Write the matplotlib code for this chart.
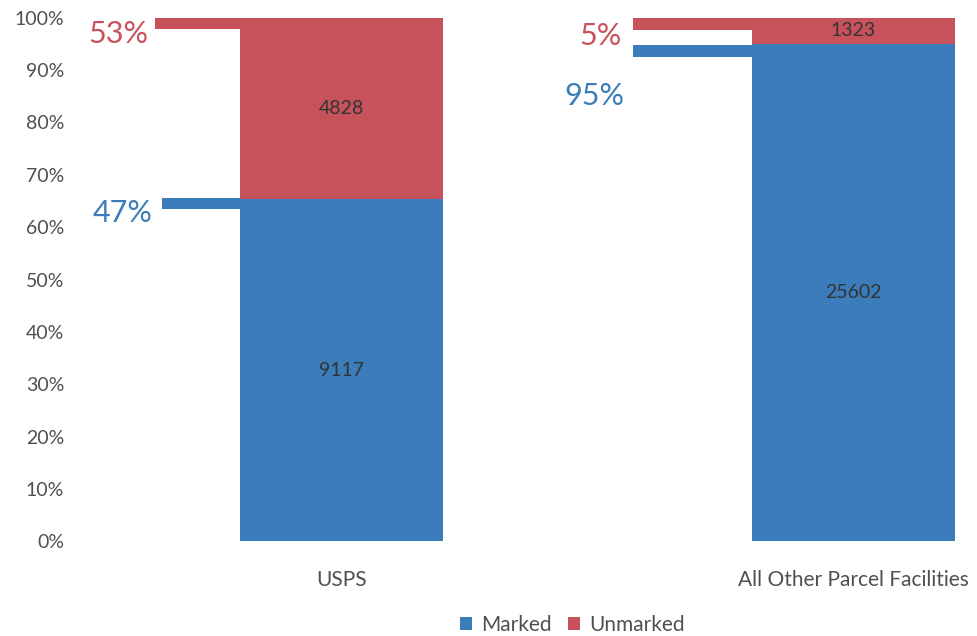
import matplotlib
matplotlib.use("Agg")
from matplotlib import pyplot as plt
from matplotlib.ticker import PercentFormatter

# Data
categories = ['USPS', 'All Other Parcel Facilities']
marked = [9117, 25602]
unmarked = [4828, 1323]
callout_marked = ['47%', '95%']
callout_unmarked = ['53%', '5%']

BLUE = '#3b7dba'
RED = '#c8525b'

plt.rcParams['font.family'] = ['Lato', 'DejaVu Sans']

totals = [m + u for m, u in zip(marked, unmarked)]
marked_share = [m / t for m, t in zip(marked, totals)]
unmarked_share = [u / t for u, t in zip(unmarked, totals)]

fig = plt.figure(figsize=(9.78, 6.36), dpi=100)
ax = fig.add_axes([0.077, 0.149, 0.923, 0.823])

x = list(range(len(categories)))
width = 0.396
ax.bar(x, marked_share, width, color=BLUE, label='Marked')
ax.bar(x, unmarked_share, width, bottom=marked_share, color=RED, label='Unmarked')

# value labels centred in each segment
for i in x:
    ax.text(i, marked_share[i] / 2, str(marked[i]), ha='center', va='center',
            fontsize=14, color='#333333')
    ax.text(i, marked_share[i] + unmarked_share[i] / 2, str(unmarked[i]),
            ha='center', va='center', fontsize=14, color='#333333')

# callout strips hanging off the left edge of each bar
strip_h = 0.022
strip_start = [[-0.364, -0.351], [0.569, 0.569]]  # [red, blue] per bar
bar_left = [i - width / 2 for i in x]

# USPS: red strip at top, blue strip at the boundary
ax.barh(1 - strip_h / 2, bar_left[0] - strip_start[0][0], strip_h,
        left=strip_start[0][0], color=RED)
ax.barh(marked_share[0] - strip_h / 2 + 0.002, bar_left[0] - strip_start[0][1], strip_h,
        left=strip_start[0][1], color=BLUE)
# other facilities: red strip at top, blue strip just under the boundary
ax.barh(1 - strip_h / 2 - 0.001, bar_left[1] - strip_start[1][0], strip_h,
        left=strip_start[1][0], color=RED)
ax.barh(marked_share[1] - strip_h / 2 - 0.003, bar_left[1] - strip_start[1][1], strip_h,
        left=strip_start[1][1], color=BLUE)

ax.text(-0.377, 0.970, callout_unmarked[0], ha='right', va='center', fontsize=22, color=RED)
ax.text(-0.369, 0.627, callout_marked[0], ha='right', va='center', fontsize=22, color=BLUE)
ax.text(0.547, 0.965, callout_unmarked[1], ha='right', va='center', fontsize=22, color=RED)
ax.text(0.553, 0.850, callout_marked[1], ha='right', va='center', fontsize=22, color=BLUE)

ax.set_xlim(-0.52, 1.243)
ax.set_ylim(0, 1)
ax.set_yticks([i / 10 for i in range(11)])
ax.yaxis.set_major_formatter(PercentFormatter(1.0, decimals=0))
ax.set_xticks(x)
ax.set_xticklabels(categories)
ax.tick_params(axis='both', length=0, colors='#505050')
ax.tick_params(axis='x', pad=21, labelsize=15)
ax.tick_params(axis='y', pad=8, labelsize=14)
for s in ax.spines.values():
    s.set_visible(False)

fig.legend(loc='center', bbox_to_anchor=(0.585, 0.018), ncol=2, frameon=False,
           fontsize=15, handlelength=0.6, handleheight=0.6, handletextpad=0.4,
           columnspacing=0.8, labelcolor='#505050')

fig.savefig('out.png', dpi=100)
